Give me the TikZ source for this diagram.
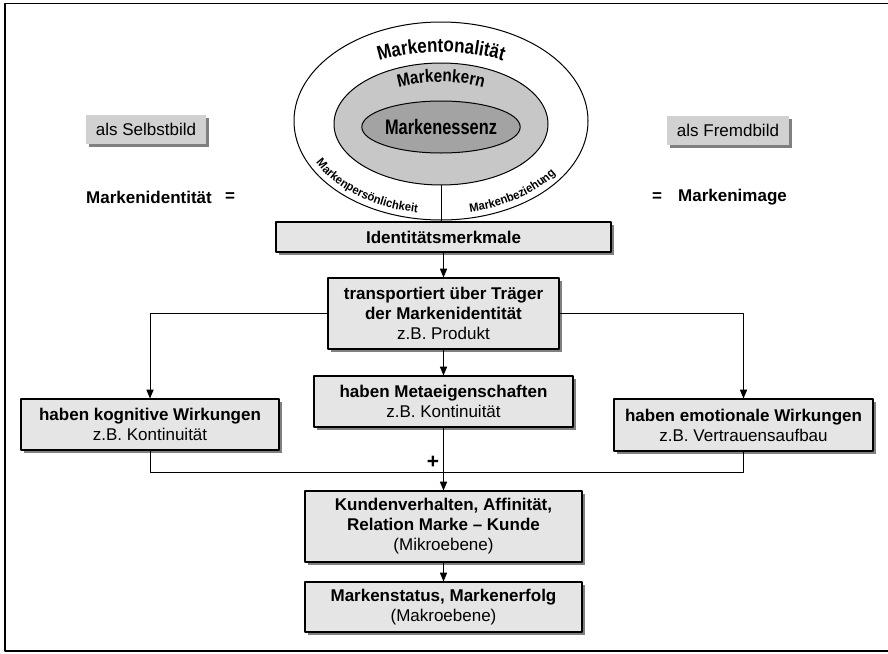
\documentclass[tikz,border=0pt]{standalone}
\usepackage{fontspec}
\setmainfont{Liberation Sans}
\newfontfamily\arcfont[FakeStretch=0.85]{Liberation Sans}
\newfontfamily\ringfont[FakeStretch=0.94]{Liberation Sans}
\newfontfamily\essfont[FakeStretch=0.78]{Liberation Sans}
\usetikzlibrary{arrows}
\usetikzlibrary{shadows}
\usetikzlibrary{shapes.geometric}
\usetikzlibrary{decorations.text}

\begin{document}
\begin{tikzpicture}[line cap=round,line join=round,>=triangle 45,x=1pt,y=1pt,
  font=\fontsize{17}{20}\selectfont,
  box/.style={draw,line width=1.2pt,fill=black!10,align=center,inner sep=0pt,
    drop shadow={shadow xshift=3pt,shadow yshift=-3pt,fill=black!50,opacity=1}},
  tagbox/.style={fill=black!18,inner sep=0pt,minimum height=29pt,
    drop shadow={shadow xshift=3pt,shadow yshift=-3pt,fill=black!50,opacity=1}},
  ring/.style={ellipse,draw,line width=1pt,inner sep=0pt},
  conn/.style={line width=1pt}]
\useasboundingbox (0,0) rectangle (888,-653);
\draw [line width=1.5pt] (888,-3.5)-- (5,-3.5)-- (5,-651)-- (888,-651);
% Marke als Ellipsen
\node[ring,fill=white,minimum width=294pt,minimum height=198pt] (tonal) at (441,-121) {};
\node[ring,fill=black!22,minimum width=214pt,minimum height=122pt] (kern) at (441,-124) {};
\node[ring,fill=black!36,minimum width=136pt,minimum height=52pt] (essenz) at (441,-127) {\essfont\bfseries\fontsize{21}{21}\selectfont Markenessenz};
\draw [line width=1pt] (kern.south)-- (tonal.south);
\path [decorate,decoration={text along path,text align=center,
  text={|\arcfont\bfseries\fontsize{20}{20}\selectfont|Markentonalität}}]
  (441,-121) ++(130:126 and 69) arc [start angle=130,end angle=50,x radius=126,y radius=69];
\path [decorate,decoration={text along path,text align=center,
  text={|\arcfont\bfseries\fontsize{18}{18}\selectfont|Markenkern}}]
  (441,-124) ++(140:86 and 42) arc [start angle=140,end angle=40,x radius=86,y radius=42];
\path [decorate,decoration={text along path,text align=center,
  text={|\ringfont\bfseries\fontsize{12}{12}\selectfont|Markenpersönlichkeit}}]
  (441,-121) ++(196:140 and 93) arc [start angle=196,end angle=268,x radius=140,y radius=93];
\path [decorate,decoration={text along path,text align=center,
  text={|\ringfont\bfseries\fontsize{12}{12}\selectfont|Markenbeziehung}}]
  (441,-121) ++(273:140 and 93) arc [start angle=273,end angle=337,x radius=140,y radius=93];
% Selbstbild / Fremdbild
\node[tagbox,minimum width=120pt] (selbst) at (146,-129.5) {als Selbstbild};
\node[tagbox,minimum width=122pt] (fremd) at (728,-130.5) {als Fremdbild};
\node[anchor=west,inner sep=0pt] (identitaet) at (86,-197) {\textbf{Markenidentität}};
\node[inner sep=0pt] (gleichl) at (230,-197) {\textbf{=}};
\node[inner sep=0pt] (gleichr) at (657,-197) {\textbf{=}};
\node[anchor=west,inner sep=0pt] (image) at (678,-197) {\textbf{Markenimage}};
% Kette der Wirkungen
\node[box,minimum width=335pt,minimum height=30pt] (ident) at (443.5,-237) {\textbf{Identitätsmerkmale}};
\node[box,minimum width=231pt,minimum height=71pt] (traeger) at (443.5,-313.5) {\textbf{transportiert über Träger}\\\textbf{der Markenidentität}\\z.B. Produkt};
\node[box,minimum width=259pt,minimum height=51pt] (meta) at (443.5,-401.5) {\textbf{haben Metaeigenschaften}\\z.B. Kontinuität};
\node[box,minimum width=258pt,minimum height=51pt] (kogn) at (150,-424.5) {\textbf{haben kognitive Wirkungen}\\z.B. Kontinuität};
\node[box,minimum width=259pt,minimum height=52pt] (emot) at (743.5,-425) {\textbf{haben emotionale Wirkungen}\\z.B. Vertrauensaufbau};
\node[box,minimum width=277pt,minimum height=71pt] (kunden) at (443.5,-526.5) {\textbf{Kundenverhalten, Affinität,}\\\textbf{Relation Marke -- Kunde}\\(Mikroebene)};
\node[box,minimum width=277pt,minimum height=50pt] (status) at (443.5,-607) {\textbf{Markenstatus, Markenerfolg}\\(Makroebene)};
\coordinate (summe) at (443.5,-472);
\node[inner sep=0pt,font=\fontsize{21}{21}\selectfont\bfseries] (plus) at (433,-462) {+};
\draw [conn,->] (ident.south)-- (traeger.north);
\draw [conn,->] (traeger.south)-- (meta.north);
\draw [conn,->] (traeger.west) -| (kogn.north);
\draw [conn,->] (traeger.east) -| (emot.north);
\draw [conn] (kogn.south) |- (summe);
\draw [conn] (emot.south) |- (summe);
\draw [conn,->] (meta.south)-- (kunden.north);
\draw [conn,->] (kunden.south)-- (status.north);
\end{tikzpicture}
\end{document}
